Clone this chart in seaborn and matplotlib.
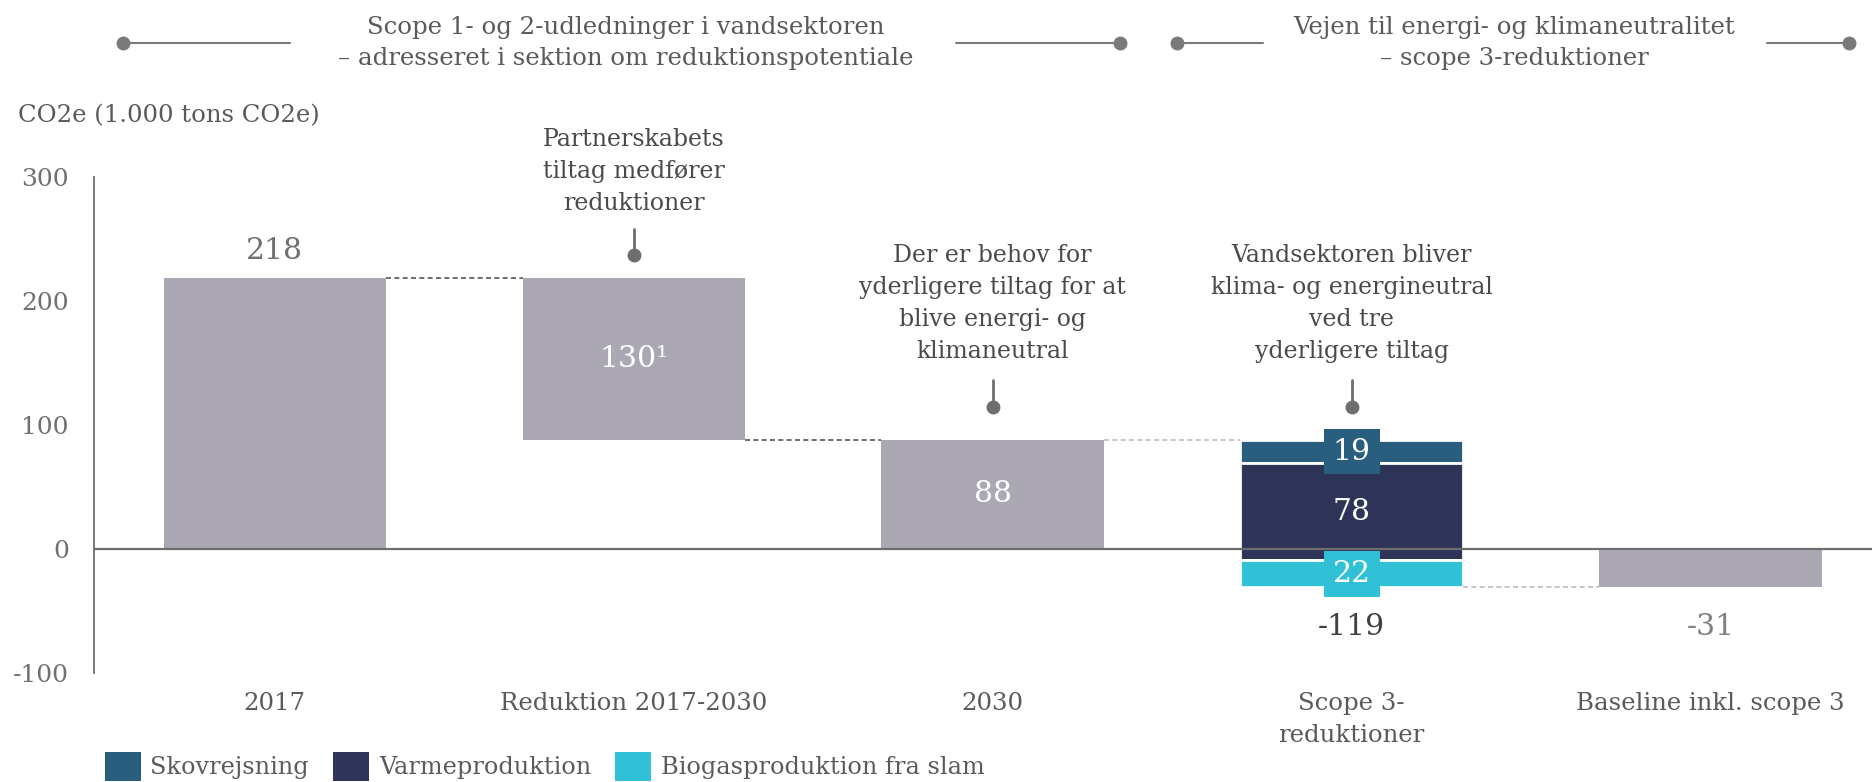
import numpy as np
import pandas as pd
import matplotlib
matplotlib.use("Agg")
import matplotlib.pyplot as plt
from matplotlib.lines import Line2D
from matplotlib.patches import Patch
import seaborn as sns

# ---------------- data ----------------
categories = ["2017", "Reduktion 2017-2030", "2030", "Scope 3-\nreduktioner", "Baseline inkl. scope 3"]
base_2017 = 218
reduction_2030 = 130
level_2030 = base_2017 - reduction_2030          # 88
scope3_names = ["Skovrejsning", "Varmeproduktion", "Biogasproduktion fra slam"]
scope3_values = [19, 78, 22]
baseline_scope3 = level_2030 - sum(scope3_values)  # -31
yticks = [-100, 0, 100, 200, 300]
y_label = "CO2e (1.000 tons CO2e)"
header_left = "Scope 1- og 2-udledninger i vandsektoren\n– adresseret i sektion om reduktionspotentiale"
header_right = "Vejen til energi- og klimaneutralitet\n– scope 3-reduktioner"
notes = {
    "Reduktion 2017-2030": "Partnerskabets\ntiltag medfører\nreduktioner",
    "2030": "Der er behov for\nyderligere tiltag for at\nblive energi- og\nklimaneutral",
    "Scope 3-\nreduktioner": "Vandsektoren bliver\nklima- og energineutral\nved tre\nyderligere tiltag",
}

# ---------------- style ----------------
GRAY_BAR = "#aba8b3"
SEG_COLORS = ["#2a5e7e", "#2e3457", "#31c1d6"]
TXT = "#5a5a5a"
AX_COL = "#6e6e6e"

sns.set_theme(style="white")
plt.rcParams["font.family"] = ["DejaVu Serif", "DejaVu Sans"]
plt.rcParams["axes.unicode_minus"] = False

fig = plt.figure(figsize=(18.72, 7.82), dpi=100)
ax = fig.add_axes([0.0502, 0.1394, 0.9498, 0.6346])

W = 0.62
# gray waterfall bars
gray_df = pd.DataFrame({
    "cat": ["2017", "Reduktion 2017-2030", "2030", "Baseline inkl. scope 3"],
    "height": [base_2017, reduction_2030, level_2030, baseline_scope3],
    "bottom": [0, level_2030, 0, 0],
})
sns.barplot(data=gray_df, x="cat", y="height", order=categories, color=GRAY_BAR,
            saturation=1, width=W, errorbar=None, bottom=gray_df["bottom"].values,
            linewidth=0, ax=ax)

# stacked scope 3 segments
s3 = categories[3]
top = level_2030
seg_info = []
for name, val, col in zip(scope3_names, scope3_values, SEG_COLORS):
    bottom = top - val
    sns.barplot(x=[s3], y=[val], order=categories, color=col, saturation=1, width=W,
                errorbar=None, bottom=bottom, edgecolor="white", linewidth=2, ax=ax)
    seg_info.append((bottom + val / 2, val, col))
    top = bottom

ax.set_xlim(-0.504, 4.45)
ax.set_ylim(-100, 300)
ax.set_yticks(yticks)
ax.set_xlabel("")
ax.set_ylabel("")
for s in ["top", "right", "bottom"]:
    ax.spines[s].set_visible(False)
ax.spines["left"].set_color(AX_COL)
ax.spines["left"].set_linewidth(1.3)
ax.spines["left"].set_bounds(-100, 300)
ax.tick_params(axis="y", colors=AX_COL, length=6, width=1.3, pad=12, labelsize=18, labelcolor="#707070")
ax.tick_params(axis="x", length=0, pad=14, labelsize=17.6, labelcolor=TXT)
for lab in ax.get_xticklabels():
    lab.set_linespacing(1.5)
ax.axhline(0, color=AX_COL, lw=1.6, zorder=5)

# connectors
levels = [base_2017, level_2030, level_2030, baseline_scope3]
conn_cols = ["#555555", "#555555", "#bdbdbd", "#bdbdbd"]
for i, (lv, cc) in enumerate(zip(levels, conn_cols)):
    ax.plot([i + W / 2, i + 1 - W / 2], [lv, lv], ls=(0, (3, 2)), color=cc, lw=1.2, zorder=1)

# value labels
VFS = 21.5
ax.text(0, base_2017 + 11, str(base_2017), ha="center", va="bottom", fontsize=VFS, color="#707070")
ax.text(1, level_2030 + reduction_2030 / 2, f"{reduction_2030}\u00b9", ha="center", va="center",
        fontsize=VFS, color="white")
ax.text(2, level_2030 / 2, str(level_2030), ha="center", va="center", fontsize=VFS, color="white")
for (mid, val, col) in seg_info:
    boxed = col != SEG_COLORS[1]
    ax.text(3, mid, str(val), ha="center", va="center", fontsize=VFS, color="white", zorder=10,
            bbox=dict(boxstyle="square,pad=0.3", fc=col, ec="none") if boxed else None)
ax.text(3, -52, f"-{sum(scope3_values)}", ha="center", va="top", fontsize=VFS, color="#404040")
ax.text(4, -52, str(baseline_scope3), ha="center", va="top", fontsize=VFS, color="#808080")

# annotation sticks
note_pos = {categories[1]: (304, 258, 237), categories[2]: (198, 136, 114), categories[3]: (198, 136, 114)}
for cat, txt in notes.items():
    i = categories.index(cat)
    ymid, ytop, ydot = note_pos[cat]
    ax.text(i, ymid, txt, ha="center", va="center", fontsize=17, color="#4a4a4a", linespacing=1.5)
    ax.plot([i, i], [ytop, ydot], color=AX_COL, lw=2, clip_on=False)
    ax.plot([i], [ydot], marker="o", ms=9, color=AX_COL, clip_on=False)

# y label
fig.text(0.0096, 0.852, y_label, ha="left", va="center", fontsize=17.6, color=TXT)

# headers
fig.text(0.334, 0.945, header_left, ha="center", va="center", fontsize=17.6, color=TXT, linespacing=1.45)
fig.text(0.809, 0.945, header_right, ha="center", va="center", fontsize=17.6, color=TXT, linespacing=1.45)
hy = 0.945
for x0, x1, dot in [(103, 243, 103), (801, 938, 938), (986, 1058, 986), (1480, 1549, 1549)]:
    fig.add_artist(Line2D([x0 / 1568, x1 / 1568], [hy, hy], color="#7a7a7a", lw=1.5))
    fig.add_artist(Line2D([dot / 1568], [hy], marker="o", ms=9, color="#7a7a7a"))

# legend
handles = [Patch(facecolor=c, edgecolor="none", label=n) for n, c in zip(scope3_names, SEG_COLORS)]
fig.legend(handles=handles, loc="center left", bbox_to_anchor=(0.056, 0.02), ncol=3, frameon=False,
           fontsize=17.3, handlelength=1.5, handleheight=1.5, handletextpad=0.4, columnspacing=1.0,
           labelcolor=TXT, borderaxespad=0, borderpad=0)

fig.savefig("out.png", dpi=100, facecolor="white")
